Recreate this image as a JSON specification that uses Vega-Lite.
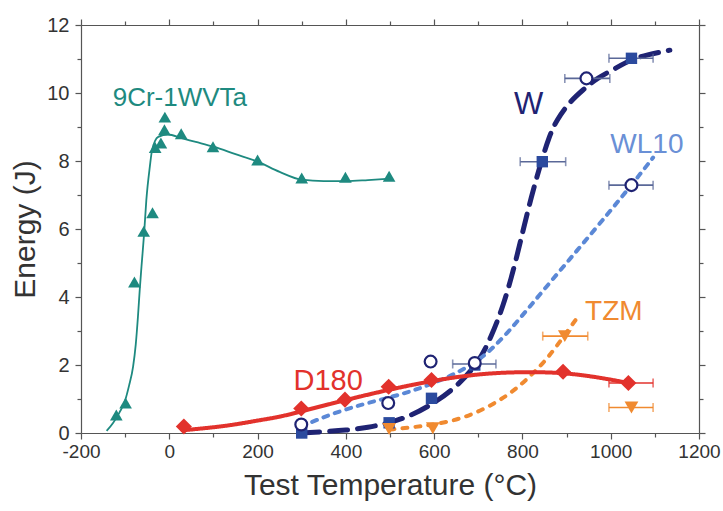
{
  "$schema": "https://vega.github.io/schema/vega-lite/v6.json",
  "width": 618,
  "height": 408,
  "autosize": "none",
  "padding": {"left": 81, "top": 25, "right": 24, "bottom": 78},
  "background": "white",
  "config": {
    "view": {"stroke": null},
    "font": "Liberation Sans",
    "axis": {
      "grid": false,
      "domainColor": "#555555",
      "domainWidth": 1.2,
      "tickColor": "#555555",
      "tickWidth": 1.2,
      "labelColor": "#333333",
      "titleColor": "#333333",
      "titleFontWeight": "normal",
      "labelFont": "Liberation Sans",
      "titleFont": "Liberation Sans"
    }
  },
  "datasets": {
    "curves": [
      {"s": "9Cr-1WVTa", "T": -142, "E": 0.06},
      {"s": "9Cr-1WVTa", "T": -127, "E": 0.3},
      {"s": "9Cr-1WVTa", "T": -113, "E": 0.6},
      {"s": "9Cr-1WVTa", "T": -101, "E": 0.92},
      {"s": "9Cr-1WVTa", "T": -91, "E": 1.4},
      {"s": "9Cr-1WVTa", "T": -82, "E": 1.95},
      {"s": "9Cr-1WVTa", "T": -76, "E": 2.6},
      {"s": "9Cr-1WVTa", "T": -71, "E": 3.42},
      {"s": "9Cr-1WVTa", "T": -67, "E": 4.2},
      {"s": "9Cr-1WVTa", "T": -63, "E": 4.89},
      {"s": "9Cr-1WVTa", "T": -57, "E": 5.87},
      {"s": "9Cr-1WVTa", "T": -52, "E": 6.85},
      {"s": "9Cr-1WVTa", "T": -44, "E": 7.84},
      {"s": "9Cr-1WVTa", "T": -39, "E": 8.32},
      {"s": "9Cr-1WVTa", "T": -25, "E": 8.71},
      {"s": "9Cr-1WVTa", "T": -3, "E": 8.78},
      {"s": "9Cr-1WVTa", "T": 28, "E": 8.67},
      {"s": "9Cr-1WVTa", "T": 60, "E": 8.56},
      {"s": "9Cr-1WVTa", "T": 100, "E": 8.42},
      {"s": "9Cr-1WVTa", "T": 150, "E": 8.2},
      {"s": "9Cr-1WVTa", "T": 200, "E": 7.98},
      {"s": "9Cr-1WVTa", "T": 250, "E": 7.68},
      {"s": "9Cr-1WVTa", "T": 300, "E": 7.45},
      {"s": "9Cr-1WVTa", "T": 350, "E": 7.41},
      {"s": "9Cr-1WVTa", "T": 400, "E": 7.41},
      {"s": "9Cr-1WVTa", "T": 450, "E": 7.44},
      {"s": "9Cr-1WVTa", "T": 500, "E": 7.48},
      {"s": "W", "T": 300, "E": 0.0},
      {"s": "W", "T": 350, "E": 0.04},
      {"s": "W", "T": 400, "E": 0.08},
      {"s": "W", "T": 450, "E": 0.16},
      {"s": "W", "T": 500, "E": 0.3},
      {"s": "W", "T": 550, "E": 0.52},
      {"s": "W", "T": 600, "E": 0.88},
      {"s": "W", "T": 650, "E": 1.35},
      {"s": "W", "T": 700, "E": 2.05},
      {"s": "W", "T": 730, "E": 2.85},
      {"s": "W", "T": 756, "E": 3.71},
      {"s": "W", "T": 780, "E": 4.8},
      {"s": "W", "T": 798, "E": 5.77},
      {"s": "W", "T": 820, "E": 6.95},
      {"s": "W", "T": 843, "E": 8.0},
      {"s": "W", "T": 860, "E": 8.7},
      {"s": "W", "T": 877, "E": 9.2},
      {"s": "W", "T": 907, "E": 9.74},
      {"s": "W", "T": 937, "E": 10.09},
      {"s": "W", "T": 968, "E": 10.43},
      {"s": "W", "T": 1005, "E": 10.68},
      {"s": "W", "T": 1045, "E": 10.98},
      {"s": "W", "T": 1081, "E": 11.12},
      {"s": "W", "T": 1134, "E": 11.26},
      {"s": "WL10", "T": 299, "E": 0.19},
      {"s": "WL10", "T": 364, "E": 0.55},
      {"s": "WL10", "T": 439, "E": 0.85},
      {"s": "WL10", "T": 500, "E": 1.05},
      {"s": "WL10", "T": 552, "E": 1.24},
      {"s": "WL10", "T": 597, "E": 1.46},
      {"s": "WL10", "T": 650, "E": 1.75},
      {"s": "WL10", "T": 703, "E": 2.15},
      {"s": "WL10", "T": 741, "E": 2.6},
      {"s": "WL10", "T": 779, "E": 3.13},
      {"s": "WL10", "T": 854, "E": 4.3},
      {"s": "WL10", "T": 926, "E": 5.4},
      {"s": "WL10", "T": 997, "E": 6.5},
      {"s": "WL10", "T": 1047, "E": 7.29},
      {"s": "WL10", "T": 1096, "E": 8.1},
      {"s": "TZM", "T": 499, "E": 0.1},
      {"s": "TZM", "T": 552, "E": 0.17},
      {"s": "TZM", "T": 597, "E": 0.24},
      {"s": "TZM", "T": 650, "E": 0.38},
      {"s": "TZM", "T": 703, "E": 0.63},
      {"s": "TZM", "T": 764, "E": 1.07},
      {"s": "TZM", "T": 809, "E": 1.56},
      {"s": "TZM", "T": 847, "E": 2.05},
      {"s": "TZM", "T": 877, "E": 2.54},
      {"s": "TZM", "T": 915, "E": 3.23},
      {"s": "TZM", "T": 926, "E": 3.42},
      {"s": "D180", "T": 30, "E": 0.08},
      {"s": "D180", "T": 130, "E": 0.2},
      {"s": "D180", "T": 205, "E": 0.38},
      {"s": "D180", "T": 250, "E": 0.47},
      {"s": "D180", "T": 300, "E": 0.64},
      {"s": "D180", "T": 399, "E": 0.97},
      {"s": "D180", "T": 499, "E": 1.28},
      {"s": "D180", "T": 597, "E": 1.54},
      {"s": "D180", "T": 698, "E": 1.74},
      {"s": "D180", "T": 795, "E": 1.8},
      {"s": "D180", "T": 900, "E": 1.78},
      {"s": "D180", "T": 998, "E": 1.58},
      {"s": "D180", "T": 1047, "E": 1.45}
    ],
    "pts": [
      {"s": "9Cr-1WVTa", "m": "triangle", "T": -120, "E": 0.53},
      {"s": "9Cr-1WVTa", "m": "triangle", "T": -99, "E": 0.88},
      {"s": "9Cr-1WVTa", "m": "triangle", "T": -79, "E": 4.44},
      {"s": "9Cr-1WVTa", "m": "triangle", "T": -58, "E": 5.93},
      {"s": "9Cr-1WVTa", "m": "triangle", "T": -38, "E": 6.48},
      {"s": "9Cr-1WVTa", "m": "triangle", "T": -32, "E": 8.4},
      {"s": "9Cr-1WVTa", "m": "triangle", "T": -19, "E": 8.53},
      {"s": "9Cr-1WVTa", "m": "triangle", "T": -10, "E": 9.29},
      {"s": "9Cr-1WVTa", "m": "triangle", "T": -11, "E": 8.92},
      {"s": "9Cr-1WVTa", "m": "triangle", "T": 27, "E": 8.8},
      {"s": "9Cr-1WVTa", "m": "triangle", "T": 99, "E": 8.42},
      {"s": "9Cr-1WVTa", "m": "triangle", "T": 200, "E": 8.03},
      {"s": "9Cr-1WVTa", "m": "triangle", "T": 300, "E": 7.5},
      {"s": "9Cr-1WVTa", "m": "triangle", "T": 399, "E": 7.52},
      {"s": "9Cr-1WVTa", "m": "triangle", "T": 498, "E": 7.55},
      {"s": "W", "m": "square", "T": 300, "E": 0.0},
      {"s": "W", "m": "square", "T": 498, "E": 0.3},
      {"s": "W", "m": "square", "T": 594, "E": 1.02},
      {"s": "W", "m": "square", "T": 692, "E": 2.0},
      {"s": "W", "m": "square", "T": 845, "E": 7.98},
      {"s": "W", "m": "square", "T": 1047, "E": 11.02},
      {"s": "D180", "m": "diamond", "T": 33, "E": 0.19},
      {"s": "D180", "m": "diamond", "T": 299, "E": 0.72},
      {"s": "D180", "m": "diamond", "T": 398, "E": 0.98},
      {"s": "D180", "m": "diamond", "T": 497, "E": 1.36},
      {"s": "D180", "m": "diamond", "T": 594, "E": 1.56},
      {"s": "D180", "m": "diamond", "T": 892, "E": 1.8},
      {"s": "D180", "m": "diamond", "T": 1040, "E": 1.47},
      {"s": "TZM", "m": "triangle-down", "T": 498, "E": 0.12},
      {"s": "TZM", "m": "triangle-down", "T": 597, "E": 0.14},
      {"s": "TZM", "m": "triangle-down", "T": 896, "E": 2.85},
      {"s": "TZM", "m": "triangle-down", "T": 1047, "E": 0.75}
    ],
    "circles": [
      {"s": "WL10", "T": 299, "E": 0.25},
      {"s": "WL10", "T": 496, "E": 0.88},
      {"s": "WL10", "T": 592, "E": 2.1},
      {"s": "WL10", "T": 692, "E": 2.06},
      {"s": "WL10", "T": 945, "E": 10.43},
      {"s": "WL10", "T": 1047, "E": 7.29}
    ],
    "errs": [
      {"s": "W", "T": 692, "E": 2.03, "lo": 642, "hi": 740},
      {"s": "W", "T": 845, "E": 7.98, "lo": 795, "hi": 898},
      {"s": "W", "T": 1047, "E": 11.02, "lo": 996, "hi": 1096},
      {"s": "W", "T": 945, "E": 10.43, "lo": 896, "hi": 998},
      {"s": "W", "T": 1047, "E": 7.29, "lo": 996, "hi": 1096},
      {"s": "TZM", "T": 896, "E": 2.85, "lo": 846, "hi": 948},
      {"s": "TZM", "T": 1047, "E": 0.75, "lo": 996, "hi": 1096},
      {"s": "D180", "T": 1040, "E": 1.47, "lo": 996, "hi": 1096}
    ],
    "labels": [
      {"s": "9Cr-1WVTa", "T": 24, "E": 9.85, "text": "9Cr-1WVTa"},
      {"s": "W", "T": 814, "E": 9.65, "text": "W"},
      {"s": "WL10", "T": 1082, "E": 8.47, "text": "WL10"},
      {"s": "TZM", "T": 1007, "E": 3.55, "text": "TZM"},
      {"s": "D180", "T": 360, "E": 1.53, "text": "D180"}
    ]
  },
  "layer": [
    {
      "data": {"name": "curves"},
      "transform": [{"filter": "datum.s == '9Cr-1WVTa'"}],
      "mark": {"type": "line", "interpolate": "monotone", "color": "#1e8a80", "strokeWidth": 1.8},
      "encoding": {
        "x": {
          "field": "T", "type": "quantitative",
          "scale": {"domain": [-200, 1200], "nice": false, "zero": false},
          "axis": {
            "orient": "bottom",
            "title": "Test Temperature (°C)",
            "titleFontSize": 30,
            "titlePadding": 9,
            "values": [-200, -100, 0, 100, 200, 300, 400, 500, 600, 700, 800, 900, 1000, 1100, 1200],
            "labelExpr": "datum.value % 200 == 0 ? '' + datum.value : ''",
            "labelFontSize": 19,
            "labelPadding": 3,
            "labelFlush": false,
            "labelOverlap": false,
            "tickSize": {"condition": {"test": "datum.value % 200 == 0", "value": 6}, "value": 4}
          }
        },
        "y": {
          "field": "E", "type": "quantitative",
          "scale": {"domain": [0, 12], "nice": false, "zero": false},
          "axis": {
            "orient": "left",
            "title": "Energy (J)",
            "titleFontSize": 30,
            "titlePadding": 6,
            "values": [0, 1, 2, 3, 4, 5, 6, 7, 8, 9, 10, 11, 12],
            "labelExpr": "datum.value % 2 == 0 ? '' + datum.value : ''",
            "labelFontSize": 20,
            "labelPadding": 6,
            "labelFlush": false,
            "labelOverlap": false,
            "tickSize": {"condition": {"test": "datum.value % 2 == 0", "value": 6}, "value": 4}
          }
        }
      }
    },
    {
      "data": {"name": "curves"},
      "transform": [{"filter": "datum.s != '9Cr-1WVTa'"}],
      "mark": {"type": "line", "interpolate": "basis", "strokeCap": "round"},
      "encoding": {
        "x": {"field": "T", "type": "quantitative", "axis": null},
        "y": {"field": "E", "type": "quantitative", "axis": null},
        "color": {
          "field": "s", "type": "nominal", "legend": null,
          "scale": {"domain": ["W", "WL10", "TZM", "D180"], "range": ["#1f2373", "#5b88d6", "#f08a30", "#e2322c"]}
        },
        "strokeDash": {
          "field": "s", "type": "nominal", "legend": null,
          "scale": {"domain": ["W", "WL10", "TZM", "D180"], "range": [[18, 10], [5, 7], [5, 8], [1, 0]]}
        },
        "size": {
          "field": "s", "type": "ordinal", "legend": null,
          "scale": {"type": "ordinal", "domain": ["W", "WL10", "TZM", "D180"], "range": [5, 4, 4, 4]}
        }
      }
    },
    {
      "data": {"name": "errs"},
      "mark": {"type": "rule", "strokeWidth": 1.6},
      "encoding": {
        "x": {"field": "lo", "type": "quantitative", "axis": null},
        "x2": {"field": "hi"},
        "y": {"field": "E", "type": "quantitative", "axis": null},
        "color": {
          "field": "s", "type": "nominal", "legend": null,
          "scale": {"domain": ["W", "TZM", "D180"], "range": ["#5a6898", "#f08a30", "#e2322c"]}
        }
      }
    },
    {
      "data": {"name": "errs"},
      "transform": [{"fold": ["lo", "hi"], "as": ["end", "Tend"]}],
      "mark": {"type": "tick", "orient": "vertical", "size": 9, "thickness": 1.6},
      "encoding": {
        "x": {"field": "Tend", "type": "quantitative", "axis": null},
        "y": {"field": "E", "type": "quantitative", "axis": null},
        "color": {
          "field": "s", "type": "nominal", "legend": null,
          "scale": {"domain": ["W", "TZM", "D180"], "range": ["#5a6898", "#f08a30", "#e2322c"]}
        }
      }
    },
    {
      "data": {"name": "pts"},
      "mark": {"type": "point", "filled": true, "opacity": 1},
      "encoding": {
        "x": {"field": "T", "type": "quantitative", "axis": null},
        "y": {"field": "E", "type": "quantitative", "axis": null},
        "shape": {
          "field": "m", "type": "nominal", "legend": null,
          "scale": {"domain": ["triangle", "square", "diamond", "triangle-down"], "range": ["triangle-up", "square", "diamond", "triangle-down"]}
        },
        "color": {
          "field": "s", "type": "nominal", "legend": null,
          "scale": {"domain": ["9Cr-1WVTa", "W", "TZM", "D180"], "range": ["#1e8a80", "#2b4a9e", "#f08a30", "#e2322c"]}
        },
        "size": {
          "field": "m", "type": "ordinal", "legend": null,
          "scale": {"type": "ordinal", "domain": ["triangle", "square", "diamond", "triangle-down"], "range": [160, 130, 260, 190]}
        }
      }
    },
    {
      "data": {"name": "circles"},
      "mark": {"type": "point", "shape": "circle", "filled": false, "fill": "white", "fillOpacity": 1, "stroke": "#1f2373", "strokeWidth": 2.2, "size": 140, "opacity": 1},
      "encoding": {
        "x": {"field": "T", "type": "quantitative", "axis": null},
        "y": {"field": "E", "type": "quantitative", "axis": null}
      }
    },
    {
      "data": {"name": "labels"},
      "mark": {"type": "text", "font": "Liberation Sans", "align": "center", "baseline": "middle"},
      "encoding": {
        "x": {"field": "T", "type": "quantitative", "axis": null},
        "y": {"field": "E", "type": "quantitative", "axis": null},
        "text": {"field": "text"},
        "size": {
          "field": "s", "type": "ordinal", "legend": null,
          "scale": {"type": "ordinal", "domain": ["9Cr-1WVTa", "W", "WL10", "TZM", "D180"], "range": [26, 31, 28, 28, 29]}
        },
        "color": {
          "field": "s", "type": "nominal", "legend": null,
          "scale": {"domain": ["9Cr-1WVTa", "W", "WL10", "TZM", "D180"], "range": ["#1e8a80", "#1f2373", "#6a90d6", "#f08a30", "#e2322c"]}
        }
      }
    },
    {
      "data": {"name": "circles"},
      "mark": {"type": "point", "opacity": 0},
      "encoding": {
        "x": {
          "field": "T", "type": "quantitative",
          "axis": {
            "orient": "top", "title": null, "labels": false,
            "values": [-200, -100, 0, 100, 200, 300, 400, 500, 600, 700, 800, 900, 1000, 1100, 1200],
            "tickSize": {"condition": {"test": "datum.value % 200 == 0", "value": 6}, "value": 4}
          }
        },
        "y": {
          "field": "E", "type": "quantitative",
          "axis": {
            "orient": "right", "title": null, "labels": false,
            "values": [0, 1, 2, 3, 4, 5, 6, 7, 8, 9, 10, 11, 12],
            "tickSize": {"condition": {"test": "datum.value % 2 == 0", "value": 6}, "value": 4}
          }
        }
      }
    }
  ],
  "resolve": {
    "scale": {"color": "independent", "size": "independent", "shape": "independent", "strokeDash": "independent"},
    "axis": {"x": "independent", "y": "independent"}
  }
}
